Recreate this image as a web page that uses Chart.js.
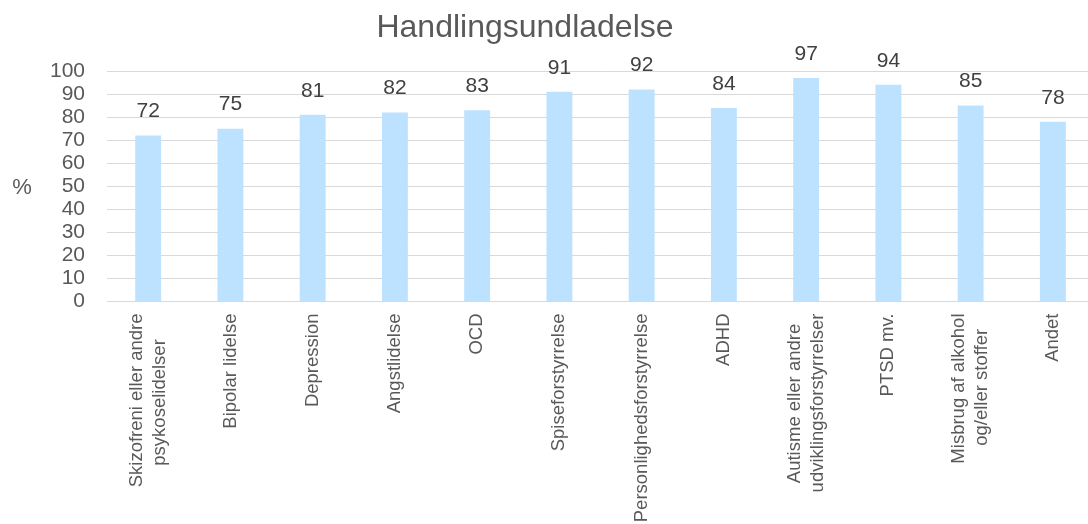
<!DOCTYPE html>
<html>
<head>
<meta charset="utf-8">
<script src="https://cdn.jsdelivr.net/npm/chart.js@4/dist/chart.umd.min.js"></script>
<style>
  html, body { margin: 0; padding: 0; background: #fff; overflow: hidden; }
  #wrap { width: 1094px; height: 524px; }
</style>
</head>
<body>
<div id="wrap"><canvas id="c" width="1094" height="524"></canvas></div>
<script>
const chartTitle = 'Handlingsundladelse';
const yAxisLabel = '%';
const categories = [
  ['Skizofreni eller andre', 'psykoselidelser'],
  'Bipolar lidelse',
  'Depression',
  'Angstlidelse',
  'OCD',
  'Spiseforstyrrelse',
  'Personlighedsforstyrrelse',
  'ADHD',
  ['Autisme eller andre', 'udviklingsforstyrrelser'],
  'PTSD mv.',
  ['Misbrug af alkohol', 'og/eller stoffer'],
  'Andet'
];
const values = [72, 75, 81, 82, 83, 91, 92, 84, 97, 94, 85, 78];
const yTicks = [0, 10, 20, 30, 40, 50, 60, 70, 80, 90, 100];

const FONT = "'Liberation Sans', Arial, sans-serif";
const X_FONT_SIZE = 18.5;
const X_LINE_HEIGHT = 1.25;

// center shorter lines of multi-line rotated labels by padding with trailing spaces
const measureCtx = document.createElement('canvas').getContext('2d');
measureCtx.font = X_FONT_SIZE + 'px ' + FONT;
function centeredLines(label) {
  if (!Array.isArray(label)) return label;
  const widths = label.map(l => measureCtx.measureText(l).width);
  const maxW = Math.max(...widths);
  const spaceW = measureCtx.measureText(' ').width;
  return label.map((l, i) => l + ' '.repeat(Math.round((maxW - widths[i]) / 2 / spaceW)));
}

const valueLabels = {
  id: 'valueLabels',
  afterDatasetsDraw(chart) {
    const ctx = chart.ctx;
    ctx.save();
    ctx.font = '21px ' + FONT;
    ctx.fillStyle = '#404040';
    ctx.textAlign = 'center';
    ctx.textBaseline = 'middle';
    chart.getDatasetMeta(0).data.forEach((bar, i) => {
      ctx.fillText(String(values[i]), bar.x, bar.y - 24);
    });
    ctx.restore();
  }
};

// shift multi-line rotated tick labels so the block is centred on its tick
const centerMultiline = {
  id: 'centerMultiline',
  beforeDraw(chart) {
    const s = chart.scales.x;
    const lh = X_FONT_SIZE * X_LINE_HEIGHT;
    s.getLabelItems().forEach(it => {
      if (Array.isArray(it.label) && it.label.length > 1 && !it._shifted) {
        it.options.translation[0] -= lh * (it.label.length - 1) / 2;
        it._shifted = true;
      }
    });
  }
};

// title (centred as in the original layout) and the unrotated "%" axis label
const texts = {
  id: 'texts',
  afterDraw(chart) {
    const ctx = chart.ctx;
    const a = chart.chartArea;
    ctx.save();
    ctx.fillStyle = '#595959';
    ctx.textAlign = 'center';
    ctx.font = '32px ' + FONT;
    ctx.textBaseline = 'alphabetic';
    ctx.fillText(chartTitle, 525, 37);
    ctx.font = '22px ' + FONT;
    ctx.textBaseline = 'middle';
    ctx.fillText(yAxisLabel, 22, (a.top + a.bottom) / 2 + 2);
    ctx.restore();
  }
};

new Chart(document.getElementById('c'), {
  type: 'bar',
  data: {
    labels: categories,
    datasets: [{
      data: values,
      backgroundColor: '#BDE2FF',
      borderWidth: 0,
      categoryPercentage: 1,
      barPercentage: 0.315
    }]
  },
  options: {
    responsive: false,
    animation: false,
    layout: { padding: { left: 28, right: 0, top: 71, bottom: -8 } },
    plugins: {
      legend: { display: false },
      tooltip: { enabled: false },
      title: { display: false }
    },
    scales: {
      x: {
        grid: { display: false, drawTicks: false },
        border: { display: true, color: '#d9d9d9' },
        ticks: {
          color: '#595959',
          font: { family: FONT, size: X_FONT_SIZE, lineHeight: X_LINE_HEIGHT },
          minRotation: 90,
          maxRotation: 90,
          autoSkip: false,
          padding: 12,
          callback: (v, i) => centeredLines(categories[i])
        }
      },
      y: {
        min: 0,
        max: 100,
        afterBuildTicks(scale) { scale.ticks = yTicks.map(v => ({ value: v })); },
        grid: { color: '#d9d9d9', drawTicks: false },
        border: { display: false },
        ticks: {
          color: '#595959',
          font: { family: FONT, size: 21 },
          autoSkip: false,
          padding: 22
        }
      }
    }
  },
  plugins: [valueLabels, centerMultiline, texts]
});
</script>
</body>
</html>
